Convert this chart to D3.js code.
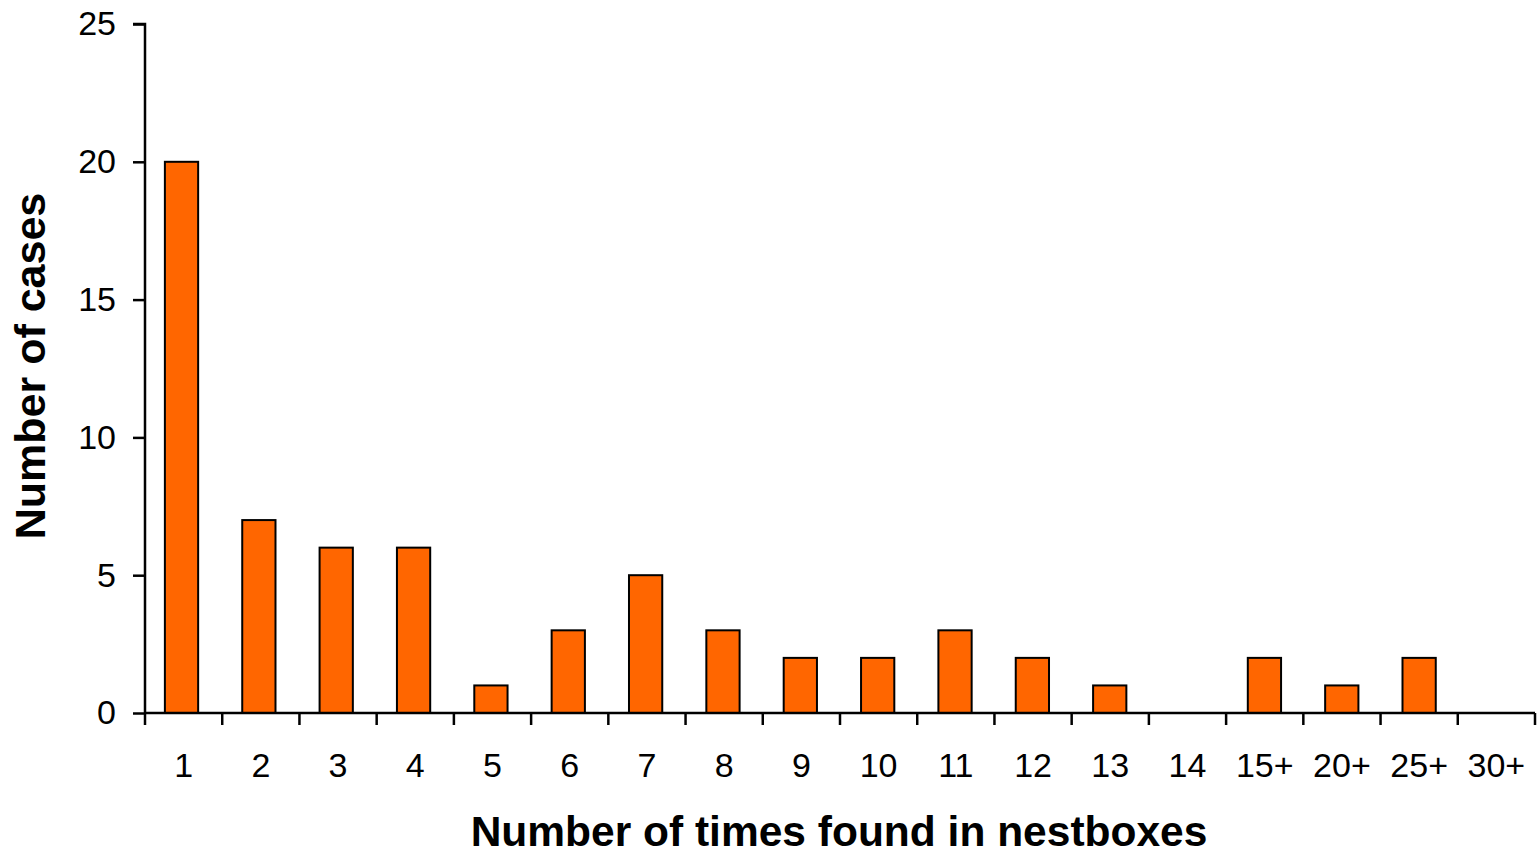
<!DOCTYPE html>
<html><head><meta charset="utf-8">
<script src="https://cdn.jsdelivr.net/npm/d3@7"></script>
<style>body{margin:0;background:#fff}svg{display:block}text{font-family:"Liberation Sans",Arial,sans-serif}</style>
</head><body>
<script>
const categories = ["1","2","3","4","5","6","7","8","9","10","11","12","13","14","15+","20+","25+","30+"];
const cases = [20,7,6,6,1,3,5,3,2,2,3,2,1,0,2,1,2,0];
const yTicks = [0,5,10,15,20,25];

const W=1540,H=856;
const svg=d3.select("body").append("svg").attr("width",W).attr("height",H);
const x0=145,x1=1535,yTop=24,yBot=713;
const x=d3.scaleBand().domain(categories).range([x0,x1]).paddingInner(0.57).paddingOuter(0.27);
const xb=d3.scaleBand().domain(categories).range([x0,x1]);
const y=d3.scaleLinear().domain([0,25]).range([yBot,yTop]);

svg.append("g").selectAll("rect").data(categories.map((c,i)=>({c,v:cases[i]})).filter(d=>d.v>0))
 .join("rect").attr("x",d=>x(d.c)-1).attr("y",d=>y(d.v)).attr("width",x.bandwidth()).attr("height",d=>yBot-y(d.v))
 .attr("fill","#FF6600").attr("stroke","#000").attr("stroke-width",2);

// y axis
const ya=svg.append("g").attr("transform",`translate(${x0},0)`)
 .call(d3.axisLeft(y).tickValues(yTicks).tickSize(12).tickPadding(17));
ya.select(".domain").attr("stroke","#000").attr("stroke-width",2.5).attr("d",`M-12,${yTop}H0V${yBot}`);
ya.selectAll(".tick line").attr("stroke-width",2.5);
ya.selectAll(".tick text").attr("font-size",34).attr("fill","#000").attr("font-family","Liberation Sans, Arial, sans-serif");

// x axis
const xa=svg.append("g").attr("transform",`translate(0,${yBot})`)
 .call(d3.axisBottom(xb).tickSize(0).tickPadding(40));
xa.select(".domain").attr("stroke","#000").attr("stroke-width",2.5).attr("d",`M${x0},0H${x1}`);
xa.selectAll(".tick text").attr("font-size",34).attr("fill","#000").attr("font-family","Liberation Sans, Arial, sans-serif");
const edges=categories.map(c=>xb(c)).concat([x1]);
svg.append("g").selectAll("line").data(edges).join("line")
 .attr("x1",d=>d).attr("x2",d=>d).attr("y1",yBot).attr("y2",yBot+12).attr("stroke","#000").attr("stroke-width",2.5);

svg.append("text").attr("x",839).attr("y",846).attr("text-anchor","middle")
 .attr("font-size",42.5).attr("font-weight","bold").text("Number of times found in nestboxes");
svg.append("text").attr("transform",`translate(45,366) rotate(-90)`).attr("text-anchor","middle")
 .attr("font-size",43).attr("font-weight","bold").text("Number of cases");
</script>
</body></html>
